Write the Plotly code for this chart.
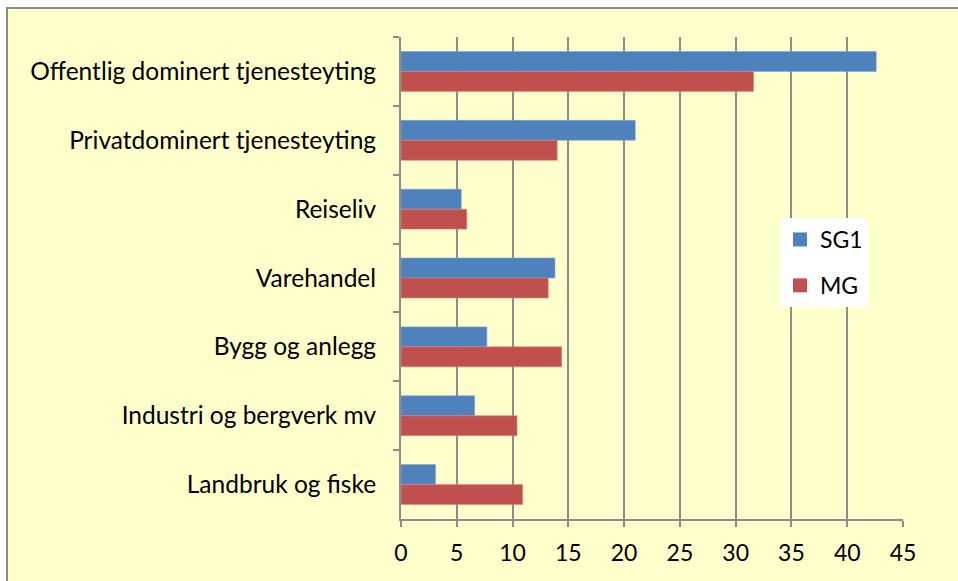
import plotly.graph_objects as go

categories = ["Offentlig dominert tjenesteyting", "Privatdominert tjenesteyting", "Reiseliv",
              "Varehandel", "Bygg og anlegg", "Industri og bergverk mv", "Landbruk og fiske"]
sg1 = [42.6, 21.0, 5.4, 13.8, 7.7, 6.6, 3.1]
mg = [31.6, 14.0, 5.9, 13.2, 14.4, 10.4, 10.9]
xticks = [0, 5, 10, 15, 20, 25, 30, 35, 40, 45]
series_names = ["SG1", "MG"]
series_colors = ["#4F81BD", "#C0504D"]

W, H = 958, 581
L, R, T, B = 401, 903, 37, 519

def px(x):
    return (x - L) / (R - L)

def py(y):
    return (B - y) / (B - T)

FONT = "Lato, Open Sans, sans-serif"

fig = go.Figure()
fig.add_trace(go.Bar(y=categories, x=sg1, name=series_names[0], orientation="h",
                     marker=dict(color=series_colors[0], line=dict(color="#7FA3D0", width=0.6)),
                     showlegend=False))
fig.add_trace(go.Bar(y=categories, x=mg, name=series_names[1], orientation="h",
                     marker=dict(color=series_colors[1], line=dict(color="#D98583", width=0.6)),
                     showlegend=False))
for i, (nm, col) in enumerate(zip(series_names, series_colors)):
    fig.add_trace(go.Scatter(x=[None], y=[None], mode="markers", name=nm,
                             marker=dict(symbol="square", size=14, color=col),
                             legendgroup="g%d" % i, hoverinfo="skip"))

fig.update_layout(
    width=W, height=H,
    margin=dict(l=L, r=W - R, t=T, b=H - B, pad=0),
    paper_bgcolor="white",
    plot_bgcolor="white",
    barmode="group",
    bargap=0.42,
    bargroupgap=0,
    font=dict(family=FONT, size=24, color="black"),
    showlegend=True,
    legend=dict(x=px(780), y=py(218), xanchor="left", yanchor="top",
                bgcolor="white", font=dict(size=23, family=FONT),
                traceorder="grouped", tracegroupgap=13, itemwidth=30),
    shapes=[dict(type="rect", xref="paper", yref="paper",
                 x0=px(7), x1=px(990), y0=py(620), y1=py(8),
                 fillcolor="#FFFFCC", line=dict(color="#8C8C8C", width=2), layer="below")],
    xaxis=dict(range=[0, 45], tickvals=xticks, ticktext=[str(v) for v in xticks],
               tickfont=dict(size=23),
               showgrid=True, gridcolor="#8C8C8C", gridwidth=1.5,
               showline=True, linecolor="#8C8C8C", linewidth=2,
               ticks="outside", ticklen=6, tickcolor="#8C8C8C", tickwidth=2,
               ticklabelstandoff=6, zeroline=False, fixedrange=True),
    yaxis=dict(autorange="reversed", showline=True, linecolor="#8C8C8C", linewidth=2,
               tickfont=dict(size=24.5),
               ticks="outside", ticklen=6, tickcolor="#8C8C8C", tickwidth=2,
               tickson="boundaries", showgrid=False, ticklabelstandoff=18,
               fixedrange=True),
)

fig.write_html("out.html", config={"displayModeBar": False},
               post_script="document.body.style.margin='0';document.body.style.padding='0';"
                           "document.body.style.fontVariantLigatures='none';")
